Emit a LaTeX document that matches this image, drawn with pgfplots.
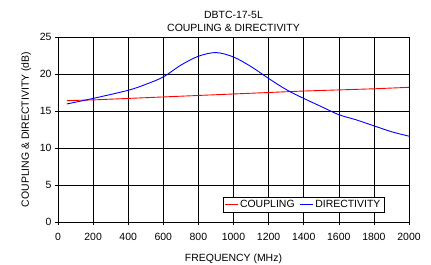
\documentclass[border=0pt]{standalone}
\usepackage{fontspec}
\setmainfont{Liberation Sans}
\usepackage{pgfplots}
\pgfplotsset{compat=1.18}
\begin{document}
\begin{tikzpicture}
\begin{axis}[
  name=ax,
  scale only axis,
  width=351bp, height=185bp,
  xmin=0, xmax=2000, ymin=0, ymax=25,
  xtick={0,200,...,2000},
  ytick={0,5,...,25},
  grid=major,
  major grid style={black, line width=0.6pt},
  axis line style={black, line width=0.6pt},
  tick style={black, line width=0.6pt},
  tick align=outside,
  major tick length=3bp,
  xtick pos=bottom, ytick pos=left,
  /pgf/number format/assume math mode=true,
  /pgf/number format/1000 sep={},
  tick label style={font=\fontsize{10.5}{12}\selectfont},
  xticklabel style={yshift=-5bp},
  label style={font=\fontsize{10.5}{12}\selectfont},
  xlabel={FREQUENCY (MHz)},
  ylabel={COUPLING \& DIRECTIVITY (dB)},
  xlabel style={yshift=-6bp},
  ylabel style={yshift=2bp},
  title={DBTC-17-5L\\COUPLING \& DIRECTIVITY},
  title style={font=\fontsize{10.5}{13}\selectfont, align=center, yshift=-4bp},
  legend style={at={(0.929,0.05)}, anchor=south east, legend columns=2,
    font=\fontsize{10.5}{12}\selectfont,
    inner sep=1.5bp, /tikz/every even column/.append style={column sep=3bp}},
  legend image code/.code={\draw[#1] (0cm,0cm) -- (0.45cm,0cm);},
]
\addplot[red, line width=0.9pt] coordinates {
 (50,16.4) (200,16.5) (400,16.7) (600,16.9) (800,17.1) (1000,17.3)
 (1200,17.5) (1400,17.7) (1600,17.85) (1800,18.0) (2000,18.2)};
\addlegendentry{COUPLING}
\addplot[blue, line width=0.9pt, smooth] coordinates {
 (50,15.95) (200,16.7) (400,17.8) (500,18.6) (600,19.6) (700,21.2)
 (800,22.4) (900,22.9) (1000,22.3) (1100,21.0) (1200,19.4) (1300,17.9)
 (1400,16.7) (1500,15.6) (1600,14.5) (1700,13.8) (1800,13.0) (1900,12.2) (2000,11.6)};
\addlegendentry{DIRECTIVITY}
\end{axis}
\pgfresetboundingbox
\path ([shift={(-58bp,-43bp)}]ax.south west) rectangle ([shift={(22bp,37bp)}]ax.north east);
\end{tikzpicture}
\end{document}
